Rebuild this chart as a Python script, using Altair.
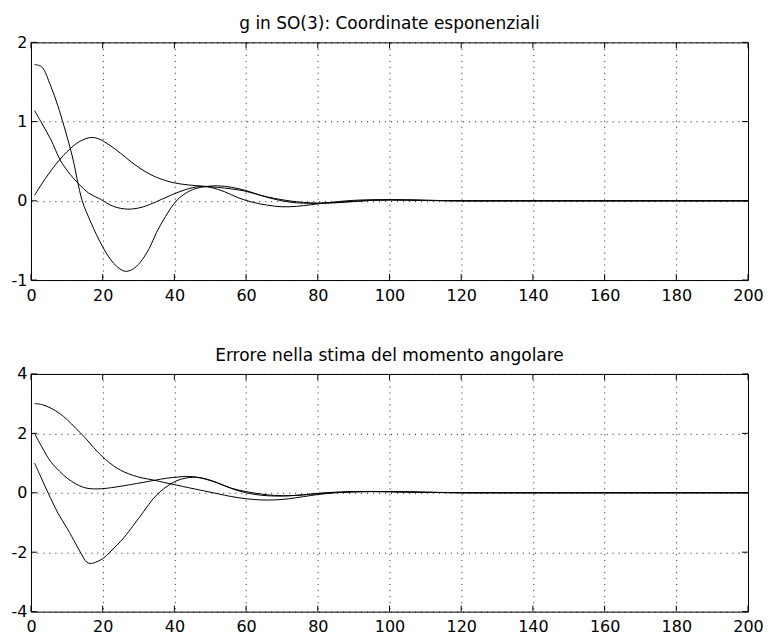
import altair as alt
import pandas as pd

FONT = "DejaVu Sans"

# ---------------- Top panel: g in SO(3) ----------------
top_title = "g in SO(3): Coordinate esponenziali"
top_y_ticks = [-1, 0, 1, 2]

a_t = [1, 3, 5.5, 7.5, 9.2, 11.5, 14.3, 16.5, 18.4, 20, 22.1, 24, 26.3, 28.5, 30.4, 33, 35, 37.5, 40,
       42, 45, 48, 52, 56, 60, 64, 68, 72, 76, 80, 85, 90, 95, 100, 105, 110, 120, 130, 140, 200]
a_v = [1.72, 1.69, 1.45, 1.2, 0.945, 0.567, 0.0, -0.25, -0.44, -0.58, -0.735, -0.83, -0.89, -0.86, -0.78,
       -0.6, -0.40, -0.2, -0.03, 0.06, 0.14, 0.175, 0.19, 0.17, 0.13, 0.07, 0.02, -0.015, -0.03, -0.03,
       -0.02, -0.005, 0.008, 0.012, 0.01, 0.006, 0.0, 0.0, 0.0, 0.0]

b_t = [1, 3, 5.5, 8.3, 11, 13.4, 16, 19.4, 23, 27, 31, 35, 39, 43, 47, 50, 54, 58, 62, 66, 70, 74, 78,
       82, 86, 90, 95, 100, 105, 110, 120, 130, 200]
b_v = [1.14, 0.98, 0.777, 0.504, 0.33, 0.21, 0.1, 0.02, -0.07, -0.105, -0.08, -0.01, 0.07, 0.14, 0.18,
       0.17, 0.115, 0.035, -0.02, -0.055, -0.075, -0.07, -0.05, -0.027, -0.008, 0.006, 0.014, 0.014,
       0.009, 0.004, 0.0, 0.0, 0.0]

c_t = [1, 4, 8, 12, 14.5, 16.8, 19, 22, 25, 28, 32.3, 36, 39.6, 44, 48, 52, 56, 60, 64, 68, 72, 76, 80,
       85, 90, 95, 100, 105, 110, 120, 130, 200]
c_v = [0.07, 0.28, 0.52, 0.7, 0.77, 0.80, 0.78, 0.70, 0.60, 0.49, 0.357, 0.28, 0.23, 0.2, 0.185, 0.17,
       0.15, 0.12, 0.07, 0.03, 0.0, -0.02, -0.03, -0.025, -0.01, 0.005, 0.012, 0.012, 0.008, 0.0, 0.0, 0.0]

# ---------------- Bottom panel: errore momento angolare ----------------
bot_title = "Errore nella stima del momento angolare"
bot_y_ticks = [-4, -2, 0, 2, 4]

d_t = [1, 3, 5.5, 8, 10.1, 12.5, 15.2, 17.5, 19.4, 22, 24, 26, 28.6, 31, 34.1, 37, 40.6, 44, 48, 52,
       56, 60, 64, 68, 72, 76, 80, 85, 90, 95, 100, 105, 110, 120, 130, 200]
d_v = [3.0, 2.97, 2.85, 2.67, 2.46, 2.17, 1.84, 1.52, 1.28, 1.0, 0.83, 0.7, 0.58, 0.5, 0.43, 0.35, 0.26,
       0.17, 0.07, -0.03, -0.13, -0.2, -0.24, -0.24, -0.2, -0.13, -0.06, 0.0, 0.03, 0.04, 0.035, 0.025,
       0.015, 0.0, 0.0, 0.0]

e_t = [1, 3, 5.5, 8, 10.1, 12.5, 14.7, 16.5, 18.4, 21, 24, 27.5, 31.3, 34.5, 37.8, 41, 43.3, 46, 49, 52,
       56, 60, 64, 68, 72, 76, 80, 85, 90, 95, 100, 105, 110, 120, 130, 200]
e_v = [2.0, 1.55, 1.05, 0.72, 0.49, 0.3, 0.18, 0.14, 0.13, 0.15, 0.2, 0.27, 0.35, 0.42, 0.49, 0.53, 0.55,
       0.53, 0.46, 0.34, 0.15, 0.04, -0.04, -0.09, -0.1, -0.07, -0.02, 0.02, 0.04, 0.045, 0.04, 0.03,
       0.02, 0.005, 0.0, 0.0]

f_t = [1, 2.5, 4, 5.5, 7.5, 10.1, 12.5, 14, 15.5, 16.5, 18, 20, 22, 24, 26, 28.6, 31.5, 34.1, 36, 38, 40,
       42, 44, 46, 48, 52, 56, 60, 64, 68, 72, 76, 80, 85, 90, 95, 100, 105, 110, 120, 130, 200]
f_v = [1.0, 0.6, 0.2, -0.19, -0.68, -1.2, -1.72, -2.05, -2.33, -2.38, -2.34, -2.22, -2.0, -1.76, -1.5,
       -1.09, -0.62, -0.2, 0.03, 0.22, 0.37, 0.46, 0.51, 0.52, 0.48, 0.33, 0.14, 0.0, -0.08, -0.11, -0.1,
       -0.07, -0.03, 0.01, 0.035, 0.04, 0.035, 0.025, 0.015, 0.0, 0.0, 0.0]

x_ticks = [0, 20, 40, 60, 80, 100, 120, 140, 160, 180, 200]

W = 718
H = 238
TICK_LEN = 6


def build_df(series):
    rows = []
    for name, ts, vs in series:
        for t, v in zip(ts, vs):
            rows.append({"t": t, "v": v, "s": name})
    return pd.DataFrame(rows)


top_df = build_df([("a", a_t, a_v), ("b", b_t, b_v), ("c", c_t, c_v)])
bot_df = build_df([("d", d_t, d_v), ("e", e_t, e_v), ("f", f_t, f_v)])
xt_df = pd.DataFrame({"xt": x_ticks})

LABEL_EXPR = "'' + datum.value"

x_axis = alt.Axis(orient="bottom", values=x_ticks, grid=True, ticks=False, tickSize=0,
                  domain=False, labelPadding=7, labelExpr=LABEL_EXPR, labelFlush=False, title=None)


def panel(df, title, y_domain, y_ticks):
    xs = alt.Scale(domain=[0, 200], nice=False, zero=False)
    ys = alt.Scale(domain=y_domain, nice=False, zero=False)
    y_axis = alt.Axis(orient="left", values=y_ticks, grid=True, ticks=False, tickSize=0,
                      domain=False, labelPadding=4, labelExpr=LABEL_EXPR,
                      labelBaseline="middle", labelFlush=False, title=None)
    yt_df = pd.DataFrame({"yt": y_ticks})

    lines = alt.Chart(df).mark_line(color="black", strokeWidth=1, interpolate="catmull-rom").encode(
        x=alt.X("t:Q", scale=xs, axis=x_axis, title=None),
        y=alt.Y("v:Q", scale=ys, axis=y_axis, title=None),
        detail="s:N",
    )

    # inward tick marks on the four sides of the box
    tick_style = dict(color="black", strokeWidth=1)
    xt_bottom = alt.Chart(xt_df).mark_rule(**tick_style).encode(
        x=alt.X("xt:Q", scale=xs, axis=x_axis, title=None),
        y=alt.value(H - TICK_LEN), y2=alt.value(H),
    )
    xt_top = alt.Chart(xt_df).mark_rule(**tick_style).encode(
        x=alt.X("xt:Q", scale=xs, axis=x_axis, title=None),
        y=alt.value(0), y2=alt.value(TICK_LEN),
    )
    yt_left = alt.Chart(yt_df).mark_rule(**tick_style).encode(
        y=alt.Y("yt:Q", scale=ys, axis=y_axis, title=None),
        x=alt.value(0), x2=alt.value(TICK_LEN),
    )
    yt_right = alt.Chart(yt_df).mark_rule(**tick_style).encode(
        y=alt.Y("yt:Q", scale=ys, axis=y_axis, title=None),
        x=alt.value(W - TICK_LEN), x2=alt.value(W),
    )

    return alt.layer(lines, xt_bottom, xt_top, yt_left, yt_right).properties(
        width=W, height=H,
        title=alt.TitleParams(title, font=FONT, fontSize=17, fontWeight="normal", color="black",
                              anchor="middle", baseline="alphabetic", offset=-12),
    )


top = panel(top_df, top_title, [-1, 2], top_y_ticks)
bot = panel(bot_df, bot_title, [-4, 4], bot_y_ticks)

chart = alt.vconcat(top, bot, spacing=42).properties(
    padding={"left": 2, "top": 6, "right": 0, "bottom": 0},
    background="white",
).configure_view(
    stroke="black", strokeWidth=1
).configure_axis(
    labelFont=FONT, labelFontSize=16, labelColor="black",
    gridColor="black", gridDash=[1, 5], gridWidth=1, gridOpacity=0.9,
)

chart.save("out.html", embed_options={"renderer": "svg", "actions": False})
